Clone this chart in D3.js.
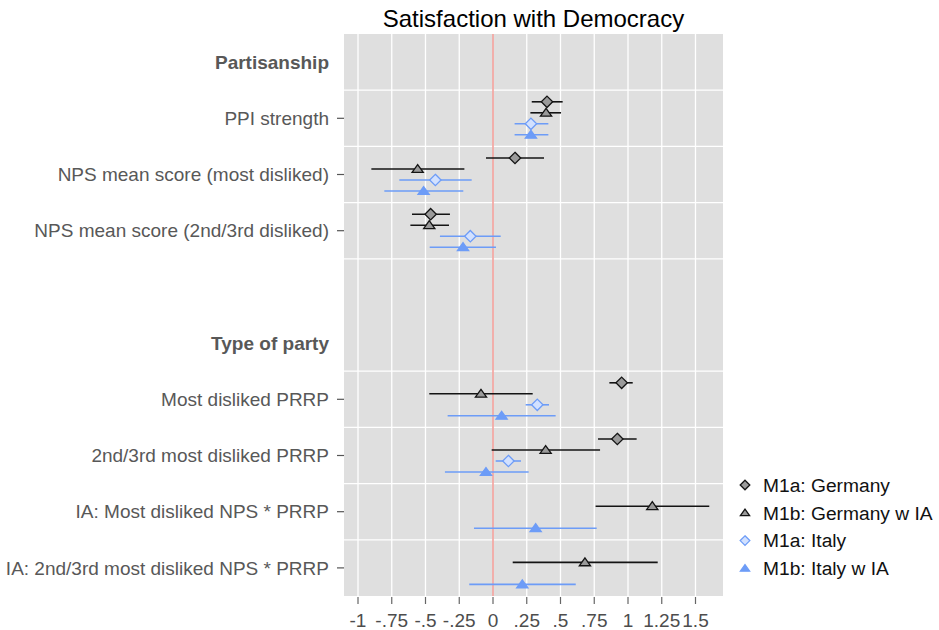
<!DOCTYPE html>
<html><head><meta charset="utf-8">
<script src="https://cdn.jsdelivr.net/npm/d3@7"></script>
<style>body{margin:0;background:#fff} svg{display:block} text{font-family:"Liberation Sans",Arial,sans-serif}</style>
</head><body><svg id="chart" width="939" height="630"></svg>
<script>
// ---- data ----
const categories = ["Partisanship","PPI strength","NPS mean score (most disliked)","NPS mean score (2nd/3rd disliked)","","Type of party","Most disliked PRRP","2nd/3rd most disliked PRRP","IA: Most disliked NPS * PRRP","IA: 2nd/3rd most disliked NPS * PRRP"];
const headerLabels = ["Partisanship","Type of party"];
const seriesNames = ["M1a: Germany","M1b: Germany w IA","M1a: Italy","M1b: Italy w IA"];
const xTickValues = [-1,-0.75,-0.5,-0.25,0,0.25,0.5,0.75,1,1.25,1.5];
const xTickLabels = ["-1","-.75","-.5","-.25","0",".25",".5",".75","1","1.25","1.5"];
const terms = ["PPI strength","NPS mean score (most disliked)","NPS mean score (2nd/3rd disliked)","Most disliked PRRP","2nd/3rd most disliked PRRP","IA: Most disliked NPS * PRRP","IA: 2nd/3rd most disliked NPS * PRRP"];
const germanyM1aEst = [0.400, 0.163, -0.462, 0.953, 0.921, null, null];
const germanyM1aLo  = [0.287, -0.052, -0.600, 0.862, 0.778, null, null];
const germanyM1aHi  = [0.516, 0.378, -0.319, 1.035, 1.064, null, null];
const germanyM1bEst = [0.393, -0.558, -0.472, -0.089, 0.390, 1.180, 0.681];
const germanyM1bLo  = [0.277, -0.901, -0.612, -0.472, -0.010, 0.760, 0.146];
const germanyM1bHi  = [0.504, -0.212, -0.326, 0.294, 0.793, 1.602, 1.220];
const italyM1aEst   = [0.281, -0.427, -0.168, 0.328, 0.114, null, null];
const italyM1aLo    = [0.160, -0.694, -0.393, 0.242, 0.020, null, null];
const italyM1aHi    = [0.410, -0.158, 0.057, 0.415, 0.207, null, null];
const italyM1bEst   = [0.281, -0.514, -0.222, 0.064, -0.052, 0.316, 0.217];
const italyM1bLo    = [0.160, -0.805, -0.469, -0.336, -0.356, -0.141, -0.176];
const italyM1bHi    = [0.410, -0.220, 0.022, 0.464, 0.264, 0.768, 0.613];

const seriesData = [
  {name: seriesNames[0], est: germanyM1aEst, lo: germanyM1aLo, hi: germanyM1aHi},
  {name: seriesNames[1], est: germanyM1bEst, lo: germanyM1bLo, hi: germanyM1bHi},
  {name: seriesNames[2], est: italyM1aEst, lo: italyM1aLo, hi: italyM1aHi},
  {name: seriesNames[3], est: italyM1bEst, lo: italyM1bLo, hi: italyM1bHi}
];
const styles = {
  "M1a: Germany":      {shape:"diamond",  line:"#141414", fill:"#9a9a9a", stroke:"#141414"},
  "M1b: Germany w IA": {shape:"triangle", line:"#141414", fill:"#9a9a9a", stroke:"#141414"},
  "M1a: Italy":        {shape:"diamond",  line:"#6d9cf7", fill:"#d2e1ff", stroke:"#6d9cf7"},
  "M1b: Italy w IA":   {shape:"triangle", line:"#6d9cf7", fill:"#6d9cf7", stroke:"#6d9cf7"}
};

// ---- layout ----
const svg = d3.select("#chart");
const panel = {left: 344, right: 723, top: 34, bottom: 596};
const x = d3.scaleLinear().domain([-1.1037, 1.7037]).range([panel.left, panel.right]);
const y = d3.scaleBand().domain(categories).range([panel.top, panel.bottom]);
const off = d3.scalePoint().domain(seriesNames).range([-16.5, 16.5]);
const yc = c => y(c) + y.bandwidth()/2;

function shapePath(shape, s) {
  if (shape === "diamond") return `M0,${-s}L${s},0L0,${s}L${-s},0Z`;
  const h = s*0.8;
  return `M0,${-h}L${s},${h*0.75}L${-s},${h*0.75}Z`;
}

// panel
svg.append("rect").attr("x", panel.left).attr("y", panel.top)
  .attr("width", panel.right-panel.left).attr("height", panel.bottom-panel.top).attr("fill", "#dfdfdf");

// vertical grid
svg.append("g").selectAll("line").data(xTickValues).join("line")
  .attr("x1", d=>x(d)).attr("x2", d=>x(d)).attr("y1", panel.top).attr("y2", panel.bottom)
  .attr("stroke", "#fff").attr("stroke-width", 1.3);

// horizontal grid at band boundaries (skip boundary before header "Type of party")
const boundaries = categories.slice(1).map((c,i)=>({c, i:i+1})).filter(d => d.c !== "Type of party");
svg.append("g").selectAll("line").data(boundaries).join("line")
  .attr("x1", panel.left).attr("x2", panel.right)
  .attr("y1", d=>y(d.c)).attr("y2", d=>y(d.c))
  .attr("stroke", "#fff").attr("stroke-width", 1.3);

// zero line
svg.append("line").attr("x1", x(0)).attr("x2", x(0)).attr("y1", panel.top).attr("y2", panel.bottom)
  .attr("stroke", "#f08a84").attr("stroke-width", 1.3);

// y labels
const yl = svg.append("g");
categories.forEach(c => {
  if (!c) return;
  const isHeader = headerLabels.includes(c);
  yl.append("text").attr("x", 329).attr("y", yc(c)).attr("dy", "0.35em")
    .attr("text-anchor", "end").attr("font-size", 19)
    .attr("font-weight", isHeader ? "bold" : "normal")
    .attr("fill", "#585858").text(c);
  if (!isHeader) {
    yl.append("line").attr("x1", 337).attr("x2", panel.left).attr("y1", yc(c)).attr("y2", yc(c))
      .attr("stroke", "#555").attr("stroke-width", 1.2);
  }
});

// x axis
const xa = svg.append("g");
xTickValues.forEach((v,i) => {
  xa.append("line").attr("x1", x(v)).attr("x2", x(v)).attr("y1", 597).attr("y2", 604)
    .attr("stroke", "#666").attr("stroke-width", 1.2);
  xa.append("text").attr("x", x(v)).attr("y", 627).attr("text-anchor", "middle")
    .attr("font-size", 19).attr("fill", "#4d4d4d").text(xTickLabels[i]);
});

// series
const marks = svg.append("g");
seriesData.forEach(s => {
  const st = styles[s.name];
  terms.forEach((t,i) => {
    if (s.est[i] == null) return;
    const yy = yc(t) + off(s.name);
    marks.append("line").attr("x1", x(s.lo[i])).attr("x2", x(s.hi[i])).attr("y1", yy).attr("y2", yy)
      .attr("stroke", st.line).attr("stroke-width", 1.6);
  });
});
seriesData.forEach(s => {
  const st = styles[s.name];
  terms.forEach((t,i) => {
    if (s.est[i] == null) return;
    const yy = yc(t) + off(s.name);
    marks.append("path").attr("d", shapePath(st.shape, st.shape==="diamond"?5.7:5.6))
      .attr("transform", `translate(${x(s.est[i])},${yy})`)
      .attr("fill", st.fill).attr("stroke", st.stroke).attr("stroke-width", 1.3);
  });
});

// title
svg.append("text").attr("x", (panel.left+panel.right)/2).attr("y", 27).attr("text-anchor", "middle")
  .attr("font-size", 24).attr("fill", "#000").text("Satisfaction with Democracy");

// legend
const lg = svg.append("g");
seriesNames.forEach((n,i) => {
  const st = styles[n];
  const ly = 485 + i*27.8;
  lg.append("path").attr("d", shapePath(st.shape, st.shape==="diamond"?4.8:4.6))
    .attr("transform", `translate(745,${ly})`)
    .attr("fill", st.fill).attr("stroke", st.stroke).attr("stroke-width", 1.3);
  lg.append("text").attr("x", 763).attr("y", ly).attr("dy", "0.35em")
    .attr("font-size", 19.2).attr("fill", "#111").text(n);
});
</script></body></html>
